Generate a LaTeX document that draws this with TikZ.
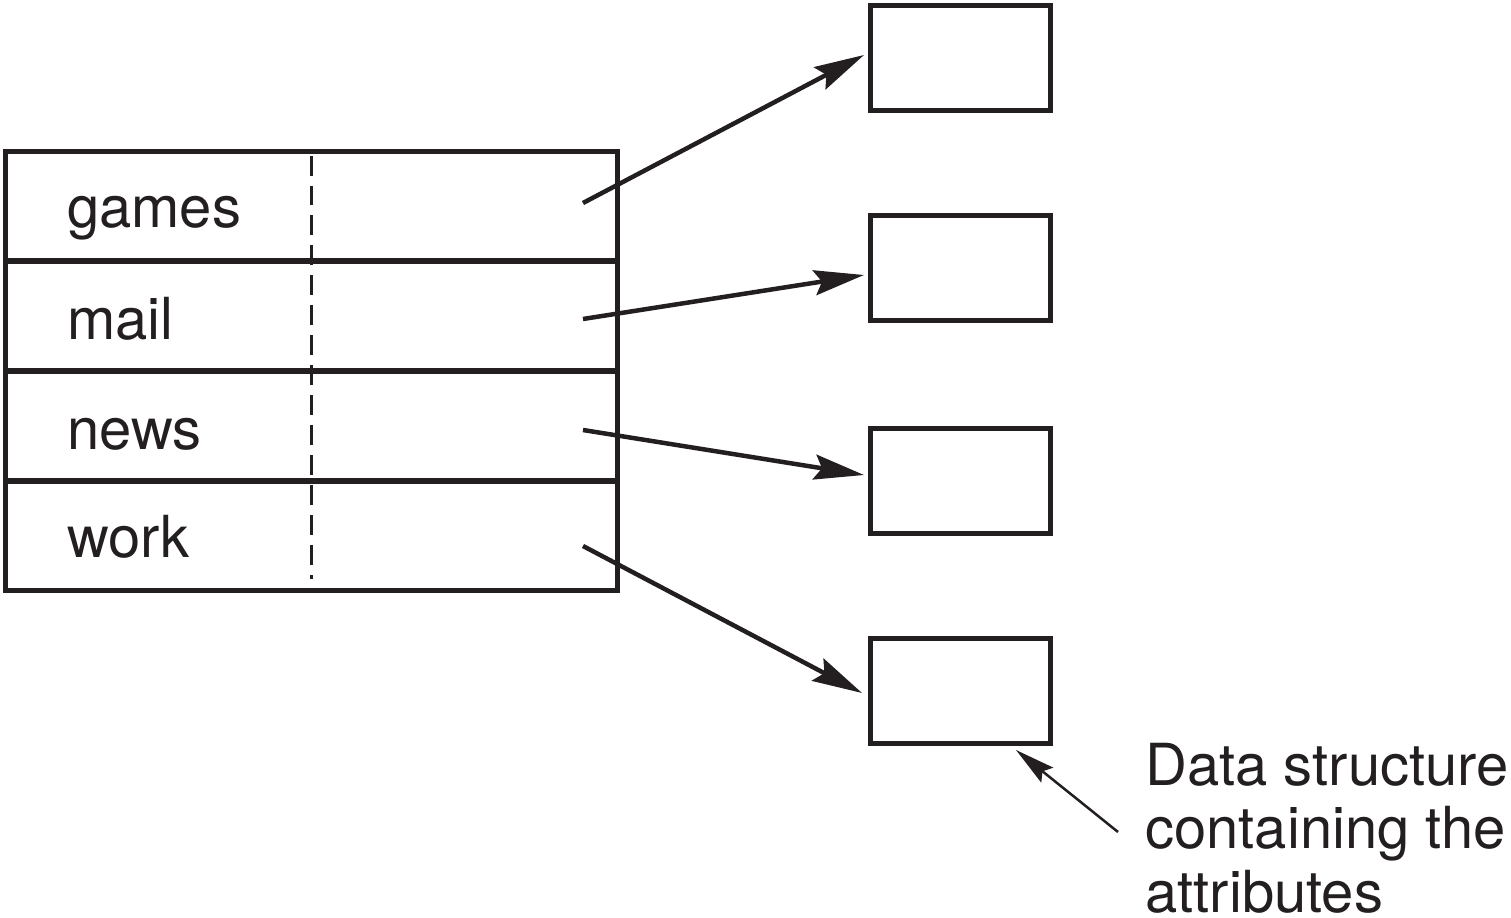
\documentclass[tikz,border=0pt]{standalone}
\usepackage{fontspec}
\setmainfont{TeX Gyre Heros}
\usetikzlibrary{arrows.meta,calc}
\definecolor{ink}{HTML}{231F20}
\tikzset{
  rowbox/.style={draw=ink, line width=0.1cm, minimum width=12.24cm, minimum height=2.2cm, inner sep=0pt},
  attrbox/.style={draw=ink, line width=0.1cm, minimum width=3.6cm, minimum height=2.1cm, inner sep=0pt},
  entry/.style={anchor=base west, inner sep=0pt, text=ink, font=\fontsize{33}{36}\selectfont},
  pointer/.style={draw=ink, line width=0.09cm, -{Stealth[length=1.0cm, width=0.5cm, inset=0.15cm]}},
  thinpointer/.style={draw=ink, line width=0.05cm, -{Stealth[length=0.8cm, width=0.38cm, inset=0.12cm]}},
}
\begin{document}
\begin{tikzpicture}[x=0.02cm, y=-0.02cm]
  \useasboundingbox (0,0) rectangle (1511,918);

  % directory table rows
  \node[rowbox] (r1) at (311.5,206) {};
  \node[rowbox] (r2) at (311.5,316) {};
  \node[rowbox] (r3) at (311.5,426) {};
  \node[rowbox] (r4) at (311.5,536) {};
  \draw[ink, line width=0.055cm, dash pattern=on 0.4cm off 0.2cm]
    ($(r1.north)+(0,7)$) -- ($(r4.south)+(0,-14)$);

  \node[entry] (games) at (67,228) {games};
  \node[entry] (mail)  at (67,340) {mail};
  \node[entry] (news)  at (67,450) {news};
  \node[entry] (work)  at (67,558) {work};

  % attribute structures
  \node[attrbox] (b1) at (960.5,58) {};
  \node[attrbox] (b2) at (960.5,268) {};
  \node[attrbox] (b3) at (960.5,481) {};
  \node[attrbox] (b4) at (960.5,691) {};

  % pointer origins inside the table
  \coordinate (s1) at (583,203);
  \coordinate (s2) at (583,319);
  \coordinate (s3) at (583,430);
  \coordinate (s4) at (583,546);

  \draw[pointer] (s1) -- ($(b1.west)+(-4,-3)$);
  \draw[pointer] (s2) -- ($(b2.west)+(-4,7)$);
  \draw[pointer] (s3) -- ($(b3.west)+(-4,-6)$);
  \draw[pointer] (s4) -- ($(b4.west)+(-6,2)$);

  % caption with its pointer
  \node[anchor=north west, align=left, inner sep=0pt, text=ink,
        font=\fontsize{33}{36}\selectfont] (cap) at (1145,743)
    {Data structure\\containing the\\attributes};
  \coordinate (c0) at (1118,832);
  \draw[thinpointer] (c0) -- ($(b4.south east)+(-37,4)$);
\end{tikzpicture}
\end{document}
